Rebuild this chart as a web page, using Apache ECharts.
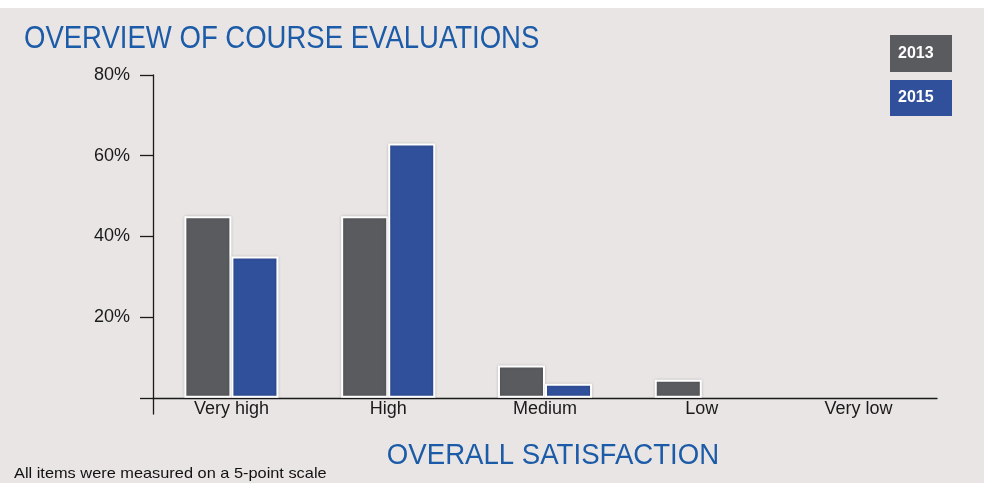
<!DOCTYPE html>
<html>
<head>
<meta charset="utf-8">
<script src="https://cdn.jsdelivr.net/npm/echarts@6/dist/echarts.min.js"></script>
<style>
html,body{margin:0;padding:0;background:#ffffff;}
#chart{position:absolute;left:0;top:8px;width:984px;height:475px;background:#e8e5e4;}
</style>
</head>
<body>
<div id="chart"></div>
<script>
const categories = ['Very high', 'High', 'Medium', 'Low', 'Very low'];
const series2013 = [45, 45, 8, 4.5, 0];
const series2015 = [35, 63, 3.5, 0, 0];
const yTickValues = [0, 20, 40, 60, 80];
const yLabelValues = [20, 40, 60, 80];
const seriesNames = ['2013', '2015'];
const titleText = 'OVERVIEW OF COURSE EVALUATIONS';
const xAxisTitle = 'OVERALL SATISFACTION';
const footnote = 'All items were measured on a 5-point scale';

const GRAY = '#5a5b5e';
const BLUE = '#31509b';
const TITLE_BLUE = '#1c5ba8';
const SANS = '"Liberation Sans", Arial, Helvetica, sans-serif';

const chart = echarts.init(document.getElementById('chart'));
const barStyle = (c) => ({
  color: c,
  borderColor: '#ffffff',
  borderWidth: 2,
  shadowBlur: 3,
  shadowColor: 'rgba(0,0,0,0.18)'
});
// zero values are not drawn as bars in the reference
const asBars = (arr) => arr.map(v => v === 0 ? '-' : v);

chart.setOption({
  animation: false,
  backgroundColor: '#e8e5e4',
  graphic: [
    {
      type: 'text', x: 24, y: 31, scaleX: 0.86, silent: true,
      style: {text: titleText, fontFamily: SANS, fontSize: 32, fill: TITLE_BLUE, textAlign: 'left', textVerticalAlign: 'middle'}
    },
    {
      type: 'text', x: 553, y: 448, scaleX: 0.92, silent: true,
      style: {text: xAxisTitle, fontFamily: SANS, fontSize: 30, fill: TITLE_BLUE, textAlign: 'center', textVerticalAlign: 'middle'}
    },
    {
      type: 'text', x: 14, y: 466, scaleX: 1.09, silent: true,
      style: {text: footnote, fontFamily: SANS, fontSize: 15, fill: '#111111', textAlign: 'left', textVerticalAlign: 'middle'}
    }
  ],
  legend: {
    data: seriesNames,
    orient: 'vertical',
    right: 32, top: 27,
    itemGap: 8,
    itemWidth: 0, itemHeight: 0,
    icon: 'rect',
    padding: 0,
    selectedMode: false,
    formatter: (name) => name === '2013' ? '{g|' + name + '}' : '{b|' + name + '}',
    textStyle: {
      rich: {
        g: {backgroundColor: GRAY, color: '#fff', fontFamily: SANS, fontWeight: 'bold', fontSize: 16, width: 54, height: 37, lineHeight: 37, padding: [0, 0, 0, 8]},
        b: {backgroundColor: BLUE, color: '#fff', fontFamily: SANS, fontWeight: 'bold', fontSize: 16, width: 54, height: 36, lineHeight: 36, padding: [0, 0, 0, 8]}
      }
    }
  },
  grid: {left: 153, right: 47, top: 67, bottom: 69, containLabel: false, outerBoundsMode: 'none'},
  xAxis: {
    type: 'category',
    data: categories,
    axisLine: {onZero: true, lineStyle: {color: '#1a1a1a', width: 1.3}},
    axisTick: {show: false},
    axisLabel: {color: '#1a1a1a', fontFamily: SANS, fontSize: 18, margin: -14}
  },
  yAxis: {
    type: 'value',
    min: -4, max: 80,
    splitLine: {show: false},
    axisLine: {show: true, lineStyle: {color: '#1a1a1a', width: 1.3}},
    axisTick: {show: true, length: 13, customValues: yTickValues, lineStyle: {color: '#1a1a1a', width: 1.3}},
    axisLabel: {customValues: yLabelValues, formatter: '{value}%', color: '#1a1a1a', fontFamily: SANS, fontSize: 18, margin: 23}
  },
  series: [
    {name: seriesNames[0], type: 'bar', data: asBars(series2013), barWidth: '30%', barGap: '0%', itemStyle: barStyle(GRAY)},
    {name: seriesNames[1], type: 'bar', data: asBars(series2015), barWidth: '30%', barGap: '0%', itemStyle: barStyle(BLUE)}
  ]
});
</script>
</body>
</html>
